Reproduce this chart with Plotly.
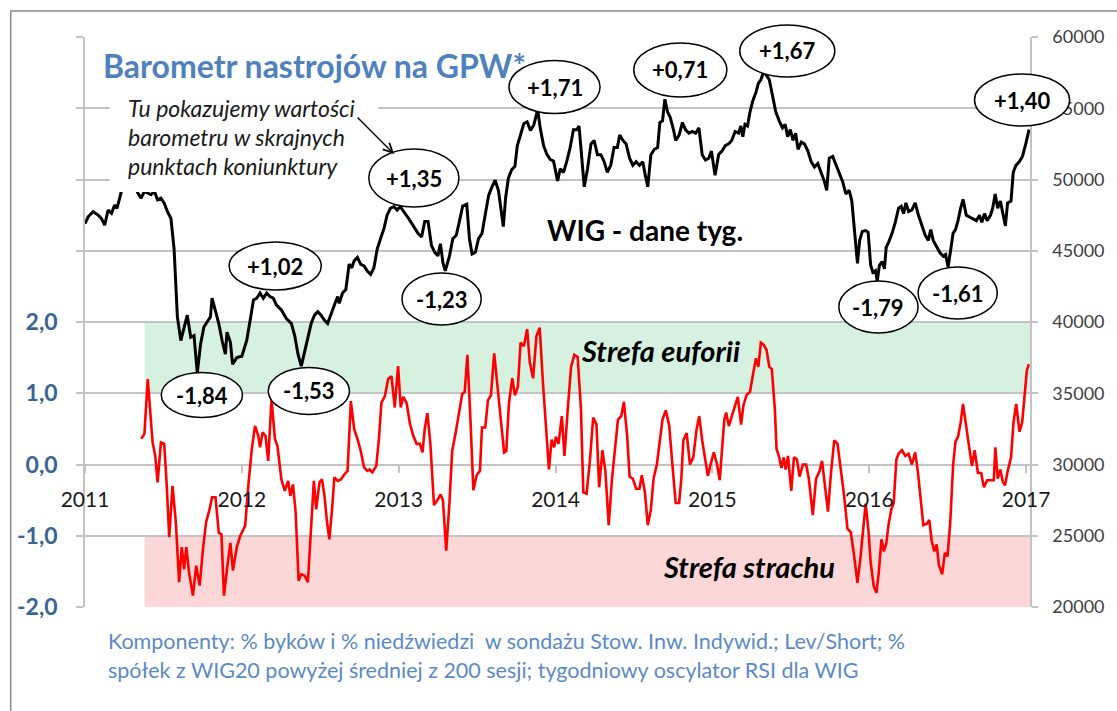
import plotly.graph_objects as go

# ---------------- data ----------------
# WIG weekly closes (right axis), dates as decimal years
wig_dates = [
    2011.000, 2011.021, 2011.052, 2011.084, 2011.105, 2011.126, 2011.147, 2011.169, 2011.189, 2011.204,
    2011.232, 2011.253, 2011.278, 2011.303, 2011.337, 2011.358, 2011.379, 2011.400, 2011.421, 2011.442,
    2011.463, 2011.484, 2011.505, 2011.526, 2011.548, 2011.568, 2011.579, 2011.589, 2011.611, 2011.632,
    2011.652, 2011.674, 2011.695, 2011.716, 2011.737, 2011.758, 2011.779, 2011.800, 2011.810, 2011.832,
    2011.853, 2011.874, 2011.895, 2011.905, 2011.927, 2011.941, 2011.968,
    2012.000, 2012.031, 2012.053, 2012.074, 2012.095, 2012.116, 2012.137, 2012.158, 2012.179, 2012.200,
    2012.221, 2012.252, 2012.284, 2012.316, 2012.337, 2012.358, 2012.379, 2012.400, 2012.421, 2012.442,
    2012.463, 2012.484, 2012.505, 2012.527, 2012.547, 2012.568, 2012.590, 2012.611, 2012.621, 2012.642,
    2012.663, 2012.684, 2012.701, 2012.716, 2012.737, 2012.758, 2012.779, 2012.800, 2012.821, 2012.842,
    2012.863, 2012.884, 2012.906, 2012.926, 2012.947, 2012.969, 2012.990,
    2013.010, 2013.040, 2013.061, 2013.082, 2013.103, 2013.124, 2013.146, 2013.166, 2013.187, 2013.209,
    2013.230, 2013.250, 2013.266, 2013.282, 2013.297, 2013.324, 2013.345, 2013.367, 2013.387, 2013.408,
    2013.434, 2013.451, 2013.468, 2013.489, 2013.509, 2013.531, 2013.552, 2013.573, 2013.594, 2013.615,
    2013.636, 2013.651, 2013.667, 2013.682, 2013.699, 2013.720, 2013.741, 2013.756, 2013.777, 2013.798,
    2013.819, 2013.840, 2013.861, 2013.886, 2013.903, 2013.924, 2013.945, 2013.967, 2013.987,
    2014.013, 2014.030, 2014.051, 2014.071, 2014.093, 2014.114, 2014.135, 2014.150, 2014.166, 2014.183,
    2014.204, 2014.226, 2014.246, 2014.267, 2014.289, 2014.310, 2014.330, 2014.352, 2014.373, 2014.394,
    2014.409, 2014.430, 2014.450, 2014.472, 2014.493, 2014.514, 2014.535, 2014.556, 2014.573, 2014.588,
    2014.608, 2014.630, 2014.651, 2014.665, 2014.682, 2014.697, 2014.714, 2014.731, 2014.752, 2014.766,
    2014.788, 2014.809, 2014.829, 2014.851, 2014.872, 2014.893, 2014.914, 2014.935, 2014.956, 2014.977,
    2014.994,
    2015.017, 2015.040, 2015.061, 2015.082, 2015.104, 2015.124, 2015.145, 2015.167, 2015.181, 2015.194,
    2015.208, 2015.224, 2015.240, 2015.257, 2015.278, 2015.293, 2015.309, 2015.325, 2015.341, 2015.363,
    2015.383, 2015.404, 2015.426, 2015.447, 2015.464, 2015.480, 2015.497, 2015.514, 2015.531, 2015.546,
    2015.567, 2015.587, 2015.609, 2015.630, 2015.651, 2015.672, 2015.693, 2015.714, 2015.729, 2015.745,
    2015.767, 2015.788, 2015.808, 2015.830, 2015.851, 2015.872, 2015.889, 2015.903, 2015.925, 2015.939,
    2015.956, 2015.977, 2015.993,
    2016.009, 2016.023, 2016.040, 2016.051, 2016.065, 2016.082, 2016.097, 2016.108, 2016.124, 2016.146,
    2016.166, 2016.187, 2016.204, 2016.219, 2016.234, 2016.251, 2016.272, 2016.293, 2016.314, 2016.335,
    2016.356, 2016.377, 2016.392, 2016.408, 2016.430, 2016.451, 2016.472, 2016.487, 2016.503, 2016.520,
    2016.535, 2016.550, 2016.566, 2016.583, 2016.598, 2016.619, 2016.640, 2016.661, 2016.683, 2016.703,
    2016.718, 2016.735, 2016.752, 2016.773, 2016.787, 2016.803, 2016.819, 2016.836, 2016.851, 2016.868,
    2016.882, 2016.904, 2016.918, 2016.935, 2016.956, 2016.977, 2016.998, 2017.019,
]
wig_values = [
    46900, 47400, 47740, 47500, 47260, 46800, 47860, 47620, 48200, 47980,
    49170, 49700, 50200, 49800, 49050, 48690, 49170, 49050, 48930, 49170,
    48570, 48690, 48330, 47740, 47260, 45120, 42270, 40360, 38700, 39650,
    40480, 38930, 39050, 36430, 38460, 39650, 40000, 40360, 41670, 40840,
    39890, 38700, 37740, 39290, 38570, 37030, 37500,
    37600, 38700, 40120, 41550, 41670, 42030, 41670, 42030, 41790, 41670,
    41190, 40840, 40240, 39890, 39050, 37740, 36900, 37980, 39050, 39890,
    40480, 40720, 40480, 40120, 39890, 40600, 41190, 41790, 41310, 42030,
    42270, 44050, 43810, 44290, 44530, 44050, 43930, 43570, 43340, 43810,
    45120, 45840, 46550, 47500, 47980, 48100, 47860,
    48100, 47660, 47300, 46940, 46580, 46210, 45970, 47060, 47060, 45370,
    44890, 44640, 45490, 44170, 43590, 44640, 45850, 46090, 47060, 48140,
    48260, 45850, 44770, 44890, 45850, 46210, 47540, 48860, 49470, 49950,
    49230, 48140, 46690, 48750, 50070, 50680, 50920, 52360, 53090, 53930,
    54050, 53450, 53810, 54900, 53570, 52360, 51760, 51400, 51300,
    49900, 50750, 50500, 51250, 52240, 53490, 53490, 53750, 51740, 49490,
    50750, 52500, 52740, 51740, 51740, 51250, 50500, 51000, 52240, 52240,
    53120, 52740, 52500, 51500, 51000, 51250, 51000, 51250, 50250, 49490,
    51740, 52120, 52240, 54000, 54120, 55630, 54750, 54370, 53490, 52740,
    53120, 54000, 53490, 53250, 53370, 53250, 53620, 51740, 51370, 51500,
    51990,
    50300, 51750, 52000, 52370, 52500, 52750, 53370, 53250, 53750, 53000,
    53870, 53750, 54750, 55500, 56130, 56750, 57000, 57500, 57380, 57000,
    56000, 54750, 54120, 53620, 53870, 53000, 53500, 52750, 53250, 52120,
    52620, 52500, 52000, 51240, 50870, 51120, 50490, 49870, 49240, 51500,
    51620, 50990, 50490, 49870, 48990, 49240, 48490, 46740, 44110, 45730,
    46360, 46420, 46300,
    44000, 43480, 43610, 42860, 43980, 44230, 43730, 45230, 45610, 46240,
    46990, 47990, 48110, 47610, 48360, 47740, 47860, 48360, 47490, 46740,
    46110, 45730, 46490, 45730, 45230, 44860, 44610, 44730, 43860, 45230,
    46240, 46490, 47110, 47990, 48610, 47490, 47360, 47240, 47110, 47490,
    46990, 47610, 47110, 47490, 47990, 48990, 47990, 48490, 47740, 46740,
    48360, 48490, 50490, 50990, 51240, 51620, 52500, 53500,
]

# Sentiment barometer (left axis), dates as decimal years
baro_dates = [
    2011.358, 2011.379, 2011.400, 2011.415, 2011.431, 2011.448, 2011.463, 2011.484, 2011.505, 2011.520,
    2011.537, 2011.558, 2011.579, 2011.600, 2011.617, 2011.632, 2011.646, 2011.663, 2011.688, 2011.709,
    2011.731, 2011.752, 2011.772, 2011.794, 2011.810, 2011.832, 2011.853, 2011.870, 2011.886, 2011.908,
    2011.927, 2011.943, 2011.968, 2011.990,
    2012.021, 2012.042, 2012.063, 2012.084, 2012.105, 2012.116, 2012.132, 2012.151, 2012.168, 2012.189,
    2012.211, 2012.227, 2012.252, 2012.274, 2012.295, 2012.309, 2012.326, 2012.343, 2012.362, 2012.379,
    2012.400, 2012.421, 2012.442, 2012.459, 2012.474, 2012.495, 2012.511, 2012.527, 2012.543, 2012.558,
    2012.575, 2012.590, 2012.611, 2012.631, 2012.653, 2012.674, 2012.695, 2012.716, 2012.737, 2012.758,
    2012.779, 2012.800, 2012.815, 2012.832, 2012.857, 2012.874, 2012.890, 2012.912, 2012.933, 2012.954,
    2012.975, 2012.996,
    2013.013, 2013.029, 2013.051, 2013.072, 2013.092, 2013.114, 2013.135, 2013.152, 2013.166, 2013.183,
    2013.202, 2013.225, 2013.247, 2013.267, 2013.282, 2013.303, 2013.324, 2013.341, 2013.362, 2013.383,
    2013.405, 2013.421, 2013.438, 2013.457, 2013.476, 2013.497, 2013.518, 2013.531, 2013.552, 2013.569,
    2013.588, 2013.609, 2013.629, 2013.651, 2013.672, 2013.686, 2013.703, 2013.724, 2013.741, 2013.760,
    2013.777, 2013.798, 2013.819, 2013.836, 2013.857, 2013.878, 2013.899, 2013.920, 2013.941, 2013.958,
    2013.975, 2013.992,
    2014.002, 2014.019, 2014.040, 2014.057, 2014.078, 2014.099, 2014.120, 2014.141, 2014.162, 2014.177,
    2014.198, 2014.219, 2014.240, 2014.261, 2014.278, 2014.299, 2014.318, 2014.339, 2014.360, 2014.381,
    2014.398, 2014.419, 2014.436, 2014.457, 2014.472, 2014.493, 2014.514, 2014.535, 2014.550, 2014.570,
    2014.588, 2014.608, 2014.625, 2014.646, 2014.668, 2014.682, 2014.703, 2014.725, 2014.745, 2014.766,
    2014.788, 2014.802, 2014.815, 2014.836, 2014.857, 2014.878, 2014.899, 2014.916, 2014.935, 2014.956,
    2014.971, 2014.992,
    2015.009, 2015.030, 2015.047, 2015.061, 2015.076, 2015.088, 2015.105, 2015.124, 2015.145, 2015.162,
    2015.183, 2015.198, 2015.219, 2015.240, 2015.261, 2015.278, 2015.293, 2015.309, 2015.328, 2015.345,
    2015.363, 2015.379, 2015.398, 2015.409, 2015.426, 2015.440, 2015.455, 2015.467, 2015.482, 2015.503,
    2015.520, 2015.539, 2015.556, 2015.577, 2015.598, 2015.615, 2015.640, 2015.661, 2015.682, 2015.699,
    2015.720, 2015.737, 2015.756, 2015.777, 2015.798, 2015.819, 2015.840, 2015.861, 2015.882, 2015.903,
    2015.925, 2015.945, 2015.966, 2015.977, 2015.996,
    2016.009, 2016.029, 2016.046, 2016.061, 2016.078, 2016.093, 2016.108, 2016.124, 2016.141, 2016.156,
    2016.173, 2016.187, 2016.209, 2016.230, 2016.251, 2016.272, 2016.293, 2016.310, 2016.324, 2016.345,
    2016.367, 2016.383, 2016.398, 2016.415, 2016.430, 2016.444, 2016.465, 2016.482, 2016.499, 2016.516,
    2016.535, 2016.550, 2016.566, 2016.583, 2016.598, 2016.619, 2016.640, 2016.655, 2016.672, 2016.693,
    2016.714, 2016.731, 2016.752, 2016.773, 2016.794, 2016.804, 2016.819, 2016.836, 2016.851, 2016.866,
    2016.882, 2016.904, 2016.920, 2016.937, 2016.958, 2016.975, 2016.992, 2017.005, 2017.018,
]
baro_values = [
    0.36, 0.43, 1.20, 0.78, 0.31, 0.12, -0.25, 0.31, 0.29, -0.25,
    -1.02, -0.30, -0.81, -1.65, -1.16, -1.47, -1.16, -1.51, -1.84, -1.42,
    -1.70, -1.19, -0.81, -0.63, -0.46, -0.46, -0.96, -0.98, -1.84, -1.42,
    -1.10, -1.49, -1.16, -1.00,
    -0.86, -0.28, 0.21, 0.54, 0.40, 0.24, 0.45, 0.40, 0.05, 0.92,
    0.36, 0.26, -0.21, -0.37, -0.23, -0.44, -0.28, -0.67, -1.63, -1.54,
    -1.56, -1.65, -0.81, -0.23, -0.63, -0.25, -0.21, -0.44, -0.81, -1.05,
    -0.63, -0.18, -0.23, -0.21, -0.14, -0.09, 0.89, 0.50, 0.36, 0.19,
    -0.04, -0.09, -0.07, -0.11, -0.02, 0.36, 0.87, 0.96, 1.20, 1.24,
    0.80, 1.38,
    0.80, 0.95, 0.86, 0.57, 0.41, 0.29, 0.29, 0.17, 0.50, 0.72,
    0.29, -0.57, -0.50, -0.42, -0.50, -1.21, -0.52, 0.19, 0.43, 0.71,
    0.99, 1.02, 1.54, 0.66, -0.36, -0.15, -0.09, 0.52, 0.52, 0.90,
    0.97, 1.56, 1.14, 0.66, 0.17, 0.19, 0.86, 1.21, 0.97, 1.09,
    1.71, 1.66, 1.90, 1.43, 1.21, 1.80, 1.92, 1.14, 0.38, -0.07,
    0.35, 0.24,
    0.39, 0.29, 0.68, 0.12, 0.78, 1.37, 1.54, 1.51, 0.78, -0.39,
    -0.41, 0.05, 0.66, 0.56, -0.32, 0.20, -0.10, -0.85, -0.20, 0.24,
    0.63, 0.68, 0.88, 0.39, -0.17, -0.20, -0.34, -0.34, -0.15, -0.39,
    -0.85, -0.63, -0.20, 0.00, 0.39, 0.63, 0.76, 0.54, 0.00, -0.54,
    -0.54, -0.20, 0.34, 0.44, 0.00, 0.10, 0.49, 0.68, 0.34, 0.05,
    -0.16, 0.03,
    0.17, 0.00, -0.22, 0.20, 0.63, 0.73, 0.54, 0.68, 0.85, 0.95,
    0.56, 0.83, 0.98, 1.02, 1.29, 1.49, 1.37, 1.71, 1.68, 1.61,
    1.37, 1.34, 0.78, 0.22, 0.10, -0.05, 0.10, -0.07, 0.12, -0.37,
    0.10, 0.07, -0.17, 0.00, 0.00, -0.20, -0.71, -0.20, -0.10, 0.05,
    -0.34, -0.66, -0.12, 0.34, 0.29, -0.05, -0.44, -0.90, -0.95, -1.27,
    -1.66, -1.29, -0.73, -0.55, -0.95,
    -1.37, -1.71, -1.80, -1.51, -1.05, -1.22, -1.12, -0.83, -0.63, -0.54,
    0.07, 0.15, 0.20, 0.12, 0.15, 0.00, 0.17, -0.10, -0.44, -0.85,
    -0.83, -0.78, -1.07, -1.22, -1.12, -1.41, -1.54, -1.24, -1.29, -0.83,
    0.00, 0.32, 0.39, 0.59, 0.85, 0.49, 0.20, -0.02, 0.20, -0.12,
    -0.12, -0.32, -0.22, -0.22, -0.22, 0.24, -0.20, -0.07, -0.24, -0.29,
    -0.10, 0.10, 0.59, 0.85, 0.46, 0.59, 1.02, 1.32, 1.41,
]

year_ticks = [2011, 2012, 2013, 2014, 2015, 2016, 2017]
year_labels = ["2011", "2012", "2013", "2014", "2015", "2016", "2017"]
baro_ticks = [-2, -1, 0, 1, 2, 3, 4, 5, 6]
baro_labels = ["-2,0", "-1,0", "0,0", "1,0", "2,0", "", "", "", ""]
wig_ticks = [20000, 25000, 30000, 35000, 40000, 45000, 50000, 55000, 60000]
wig_labels = ["20000", "25000", "30000", "35000", "40000", "45000", "50000", "55000", "60000"]

# barometer readings written at the turning points of the WIG
callout_labels = ["-1,84", "+1,02", "-1,53", "+1,35", "-1,23", "+1,71",
                  "+0,71", "+1,67", "-1,79", "-1,61", "+1,40"]
euphoria_zone = [1.0, 2.0]
fear_zone = [-2.0, -1.0]
zone_start = 2011.38
x_end = 2017.025

# ---------------- layout helpers (pixel -> paper) ----------------
W, H = 1117, 711
PL, PR, PT, PB = 85, 1039, 37, 607


def px(x):
    return (x - PL) / (PR - PL)


def py(y):
    return (PB - y) / (PB - PT)


FONT = "Lato, 'Open Sans', sans-serif"
GRID = "#C3C3C3"

# callout ellipse boxes: centre x, centre y, width, height (pixels)
callout_boxes = [
    (203, 395, 82, 45), (277, 266, 93, 48), (311, 391, 82, 47), (417, 178, 91, 58),
    (445, 299, 80, 52), (559, 87, 92, 53), (686, 70, 94, 54), (794, 51, 96, 52),
    (886, 307, 80, 52), (966, 293, 80, 52), (1031, 100, 96, 52),
]

fig = go.Figure()
fig.add_trace(go.Scatter(
    x=baro_dates, y=baro_values, mode="lines", yaxis="y",
    line=dict(color="#FF0000", width=2.6), showlegend=False, hoverinfo="skip"))
fig.add_trace(go.Scatter(
    x=wig_dates, y=wig_values, mode="lines", yaxis="y2",
    line=dict(color="#000000", width=3.0), showlegend=False, hoverinfo="skip"))

shapes = [
    dict(type="rect", xref="x", yref="y", x0=zone_start, x1=x_end,
         y0=euphoria_zone[0], y1=euphoria_zone[1], fillcolor="#D6F1E0",
         line=dict(width=0), layer="below"),
    dict(type="rect", xref="x", yref="y", x0=zone_start, x1=x_end,
         y0=fear_zone[0], y1=fear_zone[1], fillcolor="#FCD7D7",
         line=dict(width=0), layer="below"),
    # outer frame of the picture
    dict(type="rect", xref="paper", yref="paper", x0=px(10), x1=px(1130),
         y0=py(730), y1=py(11), line=dict(color="#8C8C8C", width=1.5),
         fillcolor="rgba(0,0,0,0)", layer="above"),
    # white background of the explanatory note
    dict(type="rect", xref="paper", yref="paper", x0=px(110), x1=px(381),
         y0=py(192), y1=py(92), fillcolor="#FFFFFF", line=dict(width=0),
         layer="above"),
]
for (cx, cy, w, h) in callout_boxes:
    shapes.append(dict(type="circle", xref="paper", yref="paper",
                       x0=px(cx - w / 2), x1=px(cx + w / 2),
                       y0=py(cy + h / 2), y1=py(cy - h / 2),
                       fillcolor="#FFFFFF", line=dict(color="#000000", width=1.5),
                       layer="above"))

annotations = [
    dict(text="Barometr nastrojów na GPW*", x=px(101), y=py(65), xref="paper", yref="paper",
         xanchor="left", yanchor="middle", showarrow=False,
         font=dict(family=FONT, size=32, color="#4F81BD", weight="bold")),
    dict(text="WIG - dane tyg.", x=px(650), y=py(230), xref="paper", yref="paper",
         xanchor="center", yanchor="middle", showarrow=False,
         font=dict(family=FONT, size=28, color="#000000", weight="bold")),
    dict(text="Strefa euforii", x=px(666), y=py(351), xref="paper", yref="paper",
         xanchor="center", yanchor="middle", showarrow=False,
         font=dict(family=FONT, size=29, color="#000000", weight="bold", style="italic")),
    dict(text="Strefa strachu", x=px(755), y=py(566), xref="paper", yref="paper",
         xanchor="center", yanchor="middle", showarrow=False,
         font=dict(family=FONT, size=29, color="#000000", weight="bold", style="italic")),
    # arrow from the note to the +1,35 callout
    dict(text="", x=px(397), y=py(154), xref="paper", yref="paper",
         ax=-38, ay=-38, showarrow=True, arrowhead=5, arrowsize=1.3,
         arrowwidth=1.4, arrowcolor="#000000"),
]
note_lines = ["Tu pokazujemy wartości", "barometru w skrajnych", "punktach koniunktury"]
for i, line in enumerate(note_lines):
    annotations.append(dict(text=line, x=px(126), y=py(108 + 29 * i), xref="paper", yref="paper",
                            xanchor="left", yanchor="middle", showarrow=False,
                            font=dict(family=FONT, size=23, color="#1A1A1A", style="italic")))
for lab, (cx, cy, w, h) in zip(callout_labels, callout_boxes):
    annotations.append(dict(text=lab, x=px(cx), y=py(cy), xref="paper", yref="paper",
                            xanchor="center", yanchor="middle", showarrow=False,
                            font=dict(family=FONT, size=22, color="#000000", weight="bold")))
foot_lines = [
    "Komponenty: % byków i % niedźwiedzi  w sondażu Stow. Inw. Indywid.; Lev/Short; %",
    "spółek z WIG20 powyżej średniej z 200 sesji; tygodniowy oscylator RSI dla WIG",
]
for i, line in enumerate(foot_lines):
    annotations.append(dict(text=line, x=px(106), y=py(641 + 29 * i), xref="paper", yref="paper",
                            xanchor="left", yanchor="middle", showarrow=False,
                            font=dict(family=FONT, size=21.5, color="#5A8AC6")))

fig.update_layout(
    width=W, height=H,
    margin=dict(l=PL, r=W - PR, t=PT, b=H - PB, pad=0),
    paper_bgcolor="#FFFFFF", plot_bgcolor="#FFFFFF",
    showlegend=False,
    xaxis=dict(range=[2011, x_end], tickvals=year_ticks, ticktext=year_labels,
               anchor="free", position=0.25, ticks="outside", ticklen=7, tickwidth=1.5,
               tickcolor=GRID, showgrid=False, zeroline=False, showline=False,
               ticklabelstandoff=9,
               tickfont=dict(family=FONT, size=21, color="#1A1A1A")),
    yaxis=dict(range=[-2, 6], tickvals=baro_ticks, ticktext=baro_labels,
               ticks="outside", ticklen=7, tickwidth=1.5, tickcolor=GRID,
               showgrid=False, zeroline=False, showline=True, linecolor=GRID, linewidth=1.5,
               ticklabelstandoff=14,
               tickfont=dict(family=FONT, size=23, color="#3A6496", weight="bold")),
    yaxis2=dict(range=[20000, 60000], overlaying="y", side="right",
                tickvals=wig_ticks, ticktext=wig_labels,
                ticks="outside", ticklen=6, tickwidth=1.5, tickcolor=GRID,
                showgrid=True, gridcolor=GRID, gridwidth=1.5, zeroline=False,
                showline=True, linecolor=GRID, linewidth=1.5,
                ticklabelstandoff=11,
                tickfont=dict(family=FONT, size=18, color="#404040")),
    shapes=shapes,
    annotations=annotations,
)

fig.write_html("out.html", config={"displayModeBar": False},
               post_script="document.body.style.margin='0';")
